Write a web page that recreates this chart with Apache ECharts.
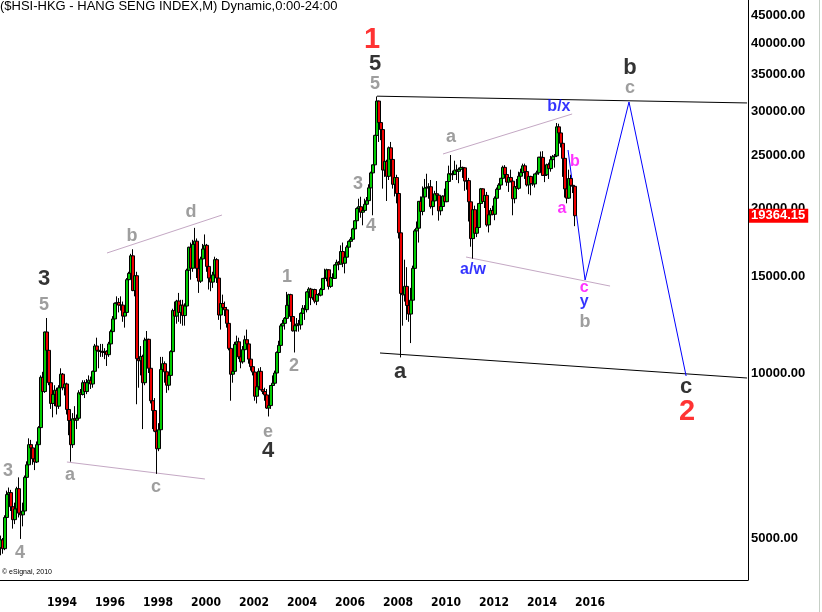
<!DOCTYPE html>
<html><head><meta charset="utf-8">
<script src="https://cdn.jsdelivr.net/npm/echarts@6.0.0/dist/echarts.min.js"></script>
<style>html,body{margin:0;padding:0;background:#fff}#c{width:822px;height:612px}</style>
</head><body><div id="c"></div>
<script>
// ---- data: monthly HSI candles, Feb 1992 .. Jan 2016 ----
const firstYear = 1992, firstMonth = 2;
const opens = [
4800,4960,4780,5450,6000,6050,5700,5400,5650,6150,5550,
5510,5600,6450,6800,7400,7300,6970,6880,7400,7950,9820,9250,
11880,11000,9600,8800,9140,9300,8700,9400,9950,9400,9550,8580,
8190,7400,8250,8200,8270,9200,9140,9600,9250,9600,9700,9550,
10070,11200,11000,10950,10950,10900,10950,10800,11300,11900,12550,13400,
13450,13300,13300,12700,12900,14800,15200,16360,14140,15050,10620,10530,
10720,9600,11480,11520,10200,8900,8540,7830,7275,7880,10150,10400,
10050,9500,9900,10940,13000,12700,13530,12900,13300,12730,13250,15400,
16960,15530,17170,17400,15520,14710,16150,16840,17100,15650,14900,14650,
15100,16100,14900,12760,13390,13170,13040,12320,11090,9950,10070,11280,
11400,10700,10480,11030,11500,11300,10600,10270,10040,9070,9440,10070,
9320,9250,9120,8630,8720,9490,9580,10000,10900,11230,12190,12320,
12580,13290,13900,12680,11940,12200,12290,12240,12850,13120,13050,14060,
14230,13720,14200,13520,13910,13870,14200,14880,14900,15430,14390,14940,
14880,15750,15920,15800,16660,15860,16270,16970,17390,17540,18320,18960,
19960,20110,19650,19800,20320,20630,21770,23180,23980,27140,31350,28640,
27810,23460,24330,22850,25760,24530,22100,22730,21260,18020,13970,13890,
14390,13280,12810,13580,15520,18170,18380,20570,19720,20960,21750,21820,
21870,20120,20610,21240,21110,19770,20130,21030,20540,22360,23100,23010,
23040,23450,23340,23530,23720,23680,22400,22440,20530,17590,19860,17990,
18430,20390,21680,20560,21090,18630,19440,19800,19480,20840,21640,22030,
22660,23730,23020,22300,22740,22390,20800,21880,21730,22860,23210,23880,
23310,22040,22840,22150,22130,23080,23190,24760,24740,22930,23000,23990,
23600,24510,24820,24900,28130,27420,26250,24640,21670,20850,22640,22000,
21910];
const closes = [
4960,4780,5450,6000,6050,5700,5400,5650,6150,5550,5510,
5600,6450,6800,7400,7300,6970,6880,7400,7950,9820,9250,11880,
11000,9600,8800,9140,9300,8700,9400,9950,9400,9550,8580,8190,
7400,8250,8200,8270,9200,9140,9600,9250,9600,9700,9550,10070,
11200,11000,10950,10950,10900,10950,10800,11300,11900,12550,13400,13450,
13300,13300,12700,12900,14800,15200,16360,14140,15050,10620,10530,10720,
9600,11480,11520,10200,8900,8540,7830,7275,7880,10150,10400,10050,
9500,9900,10940,13000,12700,13530,12900,13300,12730,13250,15400,16960,
15530,17170,17400,15520,14710,16150,16840,17100,15650,14900,14650,15100,
16100,14900,12760,13390,13170,13040,12320,11090,9950,10070,11280,11400,
10700,10480,11030,11500,11300,10600,10270,10040,9070,9440,10070,9320,
9250,9120,8630,8720,9490,9580,10000,10900,11230,12190,12320,12580,
13290,13900,12680,11940,12200,12290,12240,12850,13120,13050,14060,14230,
13720,14200,13520,13910,13870,14200,14880,14900,15430,14390,14940,14880,
15750,15920,15800,16660,15860,16270,16970,17390,17540,18320,18960,19960,
20110,19650,19800,20320,20630,21770,23180,23980,27140,31350,28640,27810,
23460,24330,22850,25760,24530,22100,22730,21260,18020,13970,13890,14390,
13280,12810,13580,15520,18170,18380,20570,19720,20960,21750,21820,21870,
20120,20610,21240,21110,19770,20130,21030,20540,22360,23100,23010,23040,
23450,23340,23530,23720,23680,22400,22440,20530,17590,19860,17990,18430,
20390,21680,20560,21090,18630,19440,19800,19480,20840,21640,22030,22660,
23730,23020,22300,22740,22390,20800,21880,21730,22860,23210,23880,23310,
22040,22840,22150,22130,23080,23190,24760,24740,22930,23000,23990,23600,
24510,24820,24900,28130,27420,26250,24640,21670,20850,22640,22000,21910,
19364.15];
const highs = [
5050,5000,5500,6100,6180,6120,5800,5800,6200,6450,5700,
5800,6500,6900,7600,7550,7400,7100,7500,8000,9900,10050,11900,
12600,11300,9800,9500,9500,9400,9500,10200,10000,9800,9600,8700,
8300,8450,8700,8400,9300,9350,9700,9700,9750,9900,9850,10100,
11300,11600,11100,11300,11300,11100,11000,11400,12000,12700,13450,13800,
13700,13800,13500,13000,14900,15300,16500,16820,15300,15300,11700,11200,
10800,11600,11930,11550,10400,9200,9000,8000,8100,10700,10700,10500,
10200,10000,11000,13100,13500,13600,14000,13600,13600,13400,15500,17000,
17300,17500,18400,17600,15700,16300,17200,17900,17200,15900,15500,15300,
16300,16200,15000,13600,13900,13500,13200,12500,11300,10500,11400,11700,
11600,10900,11200,11700,12000,11500,10900,10400,10100,9600,10200,10250,
10000,9400,9350,9100,9500,9900,10100,10950,11450,12300,12500,12650,
14060,13950,13950,13000,12200,12600,12500,12900,13300,13300,14100,14340,
14300,14200,14250,14000,14000,14300,14900,15500,15500,15450,15100,15200,
15800,16100,16000,17100,17300,16300,17100,17450,17700,18400,19000,20050,
20800,20970,20000,20800,20950,22100,23300,24000,27200,31960,31400,29300,
27900,25700,24500,25900,26400,25200,23200,23000,21400,18400,15300,16100,
15600,13700,14300,15700,18300,18900,20600,21000,21900,22600,23100,22200,
22500,20700,21500,22400,21200,20800,21100,21700,22400,23900,24990,23400,
24400,24000,23700,24470,23800,23700,22800,22700,20700,20000,20200,19100,
20400,21760,21700,21300,21400,19600,20000,20200,21000,21800,22200,22700,
23900,23950,23200,22800,23500,22500,21970,22600,23300,23600,24100,24100,
23400,22900,22900,22800,23100,23400,24800,25360,25400,23700,24100,24200,
24900,25000,25100,28588,28500,28000,26400,25100,22400,23500,23000,22600,
21950];
const lows = [
4650,4680,4750,5400,5850,5600,5200,5300,5500,5450,4980,
5250,5550,6250,6700,6950,6800,6650,6850,7300,7900,8900,9200,
10700,9500,8600,8300,8700,8400,8600,9300,9300,9100,8400,7700,
6890,7300,8050,7900,8250,8900,9100,9000,9150,9400,9350,9400,
10000,10600,10200,10700,10700,10600,10300,10700,11200,11800,12500,13100,
12900,13000,12400,12100,12800,14400,15100,14100,13800,8770,9400,9900,
7900,9500,10800,10000,8800,7900,7800,6545,7200,7800,9900,9600,
9200,9300,9700,10800,12200,12300,12400,12300,12200,12200,13200,15300,
14800,15300,15900,14900,14000,14600,16000,16500,15300,14200,14100,14300,
14900,14600,12500,12000,12900,12700,12100,11000,8900,9600,10000,10900,
10600,10200,10400,10900,11200,10400,10100,9900,8900,8800,9350,9300,
9150,8900,8600,8330,8600,9300,9500,9900,10600,11100,11700,12000,
12500,13100,12400,11900,10900,11900,11900,12000,12800,12500,12900,13900,
13300,13600,13400,13300,13600,13800,14100,14700,14700,14200,14300,14700,
14850,15400,15400,15800,15600,15200,16000,16800,17200,17400,18000,18800,
19800,19200,18600,19700,20000,20400,21700,19400,23900,27100,26400,26600,
21700,22800,20600,22500,24200,21700,21000,20400,17600,10676,12200,13500,
12500,12400,11340,13500,15300,17500,17300,19300,19400,20500,21000,20800,
19950,19400,20500,20900,18970,19400,19800,20500,20500,22200,22900,22500,
23000,22500,22200,23500,22700,21500,21600,18900,17000,16170,17600,17700,
18050,20300,20400,20000,18500,18050,18700,19400,19000,20600,21100,21900,
22600,22700,21950,21400,22300,19400,20400,21500,21600,22400,22900,22600,
21900,21200,21100,21950,21800,22800,23000,24300,22900,22300,22900,22600,
23300,24300,23700,24800,26900,25800,22800,20900,20400,20800,21600,21300,
18534];
const lastPrice = 19364.15;
const yTicks = [5000,10000,15000,20000,25000,30000,35000,40000,45000];
const yearTicks = [1994,1996,1998,2000,2002,2004,2006,2008,2010,2012,2014,2016];

// wave annotations (time in years, index level)
const annoText  = ['1','5','5','3','5','3','4','a','b','c','d','e','4','1','2','3','4','a','a','a/w','b/x','b','a','c','y','b','b','c','c','2'];
const annoTime  = [2007.54,2007.67,2007.67,1993.88,1993.88,1992.38,1992.88,1994.96,1997.54,1998.54,2000.0,2003.21,2003.21,2004.0,2004.29,2006.96,2007.5,2008.71,2010.83,2011.75,2015.33,2016.0,2015.46,2016.38,2016.38,2016.42,2018.29,2018.29,2020.63,2020.67];
const annoValue = [40520,36630,33680,14840,13310,6625,4694,6514,17780,6194,19670,7805,7206,14970,10300,22130,18540,10040,26960,15420,30580,24270,19920,14290,13480,12390,36020,33120,9429,8488];
const annoStyle = ['red','black','gray','black','gray','gray','gray','gray','gray','gray','gray','gray','black','gray','gray','gray','gray','black','gray','blue','blue','magenta','magenta','magenta','blue','gray','black','gray','black','red'];

// trend / projection lines
const topLineT = [2007.75, 2023.17], topLineV = [32000, 31100];
const bottomLineT = [2007.875, 2023.17], bottomLineV = [10877, 9792];
const pinkAT = [1994.83, 2000.58], pinkAV = [6880, 6406];
const pinkBT = [1996.5, 2001.29], pinkBV = [16557, 19420];
const pinkCT = [2010.5, 2015.88], pinkCV = [25100, 29690];
const pinkDT = [2011.46, 2017.46], pinkDV = [16280, 14410];
const projT = [2015.71, 2016.42, 2018.25, 2020.63], projV = [25520, 14780, 31230, 9875];

// ---- build ----
const months = closes.map((_, i) => { const k = firstMonth - 1 + i; return (firstYear + Math.floor(k / 12)) + '-' + String(k % 12 + 1).padStart(2, '0'); });
const toT = s => { const p = s.split('-').map(Number); return p[0] + (p[1] - 1) / 12; };
const candleData = months.map((m, i) => [toT(m), opens[i], closes[i], lows[i], highs[i]]);
const pair = (T, V) => T.map((t, i) => [t, V[i]]);

const styles = {
  red:     {color:'#ff0000', fontSize:29},
  black:   {color:'#000000', fontSize:22},
  gray:    {color:'#868686', fontSize:18},
  blue:    {color:'#0000ff', fontSize:16},
  magenta: {color:'#ff00ff', fontSize:16}
};
const annoData = annoText.map((t, i) => ({
  value: [annoTime[i], annoValue[i]],
  label: Object.assign({formatter: t, fontWeight:'bold', fontFamily:'Liberation Sans'}, styles[annoStyle[i]])
}));

const xMin = 1994 - 47 / 24, xMax = xMin + 748 / 24;
const yMin = 10000 * Math.exp((373 - 580) / 238), yMax = 10000 * Math.exp(373 / 238);

const lineSeries = (T, V, color, w) => ({
  type:'line', data: pair(T, V), symbol:'none', silent:true, z:3,
  lineStyle:{color: color, width: w}, animation:false
});

const chart = echarts.init(document.getElementById('c'));
chart.setOption({
  animation:false,
  backgroundColor:'#ffffff',
  title:{text:'($HSI-HKG - HANG SENG INDEX,M) Dynamic,0:00-24:00', left:0, top:0, padding:[0,0,0,0],
    textStyle:{fontSize:13, fontWeight:'normal', fontFamily:'Liberation Sans', color:'#000'}},
  grid:{left:0, right:74, top:0, bottom:32, outerBoundsMode:'none', containLabel:false},
  xAxis:{type:'value', min:xMin, max:xMax,
    axisLine:{show:true, lineStyle:{color:'#000', width:1}}, axisTick:{show:false}, splitLine:{show:false},
    axisLabel:{customValues: yearTicks, formatter: v => String(Math.round(v)), align:'left', padding:[0,0,0,0],
      fontFamily:'DejaVu Sans Condensed', fontWeight:'bold', fontSize:12, color:'#000', margin:17}},
  yAxis:{type:'log', logBase:10, position:'right', min:yMin, max:yMax,
    axisLine:{show:true, lineStyle:{color:'#000', width:1}}, axisTick:{show:false}, splitLine:{show:false},
    axisLabel:{customValues: yTicks, formatter: v => Number(v).toFixed(2), color:'#000', fontWeight:'bold',
      fontSize:13, fontFamily:'Liberation Sans', margin:3}},
  graphic:[
    {type:'text', left:2, top:569, style:{text:'\u00a9 eSignal, 2010', font:'7px Liberation Sans', fill:'#000'}},
    {type:'line', shape:{x1:819.5, y1:0, x2:819.5, y2:612}, style:{stroke:'#c6cfc6', lineWidth:1}}
  ],
  series:[
    lineSeries(pinkAT, pinkAV, '#c4a8c4', 1),
    lineSeries(pinkBT, pinkBV, '#c4a8c4', 1),
    lineSeries(pinkCT, pinkCV, '#c4a8c4', 1),
    lineSeries(pinkDT, pinkDV, '#c4a8c4', 1),
    lineSeries(topLineT, topLineV, '#000000', 1),
    lineSeries(bottomLineT, bottomLineV, '#000000', 1),
    {type:'candlestick', data:candleData, barWidth:3, z:4,
      itemStyle:{color:'#00cc00', color0:'#ee0000', borderColor:'#000', borderColor0:'#000', borderWidth:1},
      markLine:{silent:true, symbol:['none','none'], lineStyle:{color:'rgba(0,0,0,0)', width:0},
        label:{show:true, position:'end', formatter: lastPrice.toFixed(2), color:'#fff', backgroundColor:'#ff0000',
          fontWeight:'bold', fontSize:13, fontFamily:'Liberation Sans', padding:[1,3,0,2], distance:1},
        data:[{yAxis:lastPrice}]}},
    lineSeries(projT, projV, '#0000ff', 1),
    {type:'scatter', data:annoData, symbolSize:1, z:6, silent:true,
      itemStyle:{color:'rgba(0,0,0,0)'}, label:{show:true, position:'inside'}}
  ]
});
</script>
</body></html>
